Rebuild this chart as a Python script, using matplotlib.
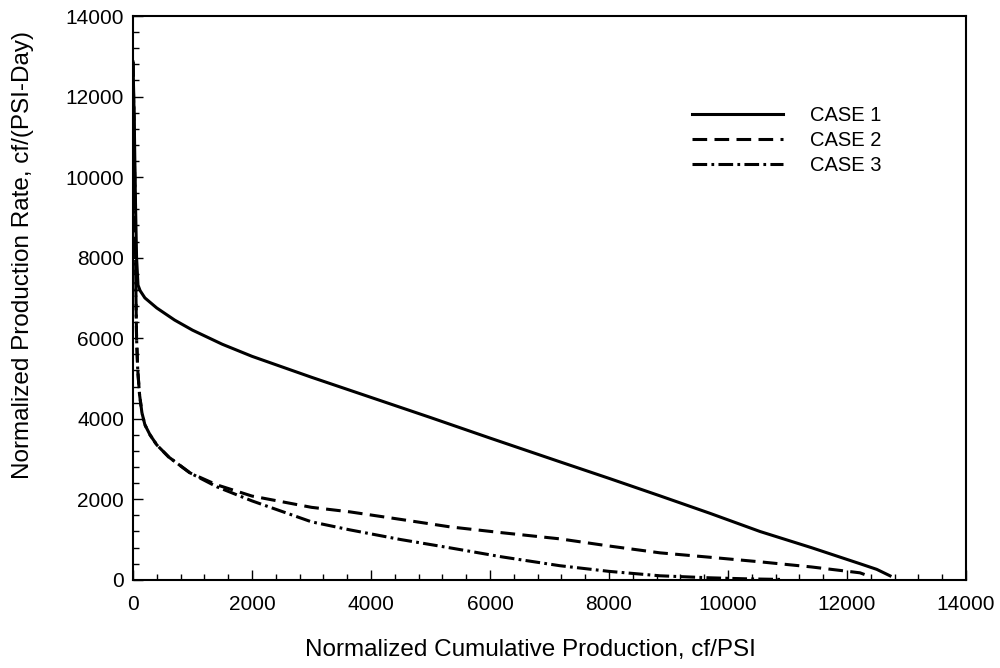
import matplotlib
matplotlib.use("Agg")
import matplotlib.pyplot as plt
from matplotlib.ticker import MultipleLocator

plt.rcParams['font.family'] = ['Liberation Sans', 'DejaVu Sans']

# normalized cumulative production (cf/PSI) and normalized rate (cf/(PSI-Day))
case1_x = [0, 20, 40, 60, 84, 120, 200, 400, 700, 1000, 1500, 2000, 3000, 4000, 5000,
           6000, 7176, 8000, 8857, 9700, 10538, 11400, 12218, 12500, 12723]
case1_y = [12860, 11500, 9500, 8000, 7320, 7180, 7000, 6750, 6450, 6200, 5850, 5550,
           5030, 4530, 4030, 3520, 2930, 2520, 2085, 1650, 1200, 800, 400, 260, 100]

case2_x = [0, 20, 40, 50, 60, 80, 110, 150, 200, 286, 400, 600, 958, 1412, 2000, 3000,
           3647, 4500, 5328, 6200, 7176, 8000, 8857, 9700, 10538, 11400, 12218, 12400]
case2_y = [12860, 11000, 8500, 7020, 6000, 5200, 4600, 4150, 3850, 3600, 3350, 3050,
           2655, 2357, 2080, 1800, 1687, 1500, 1315, 1170, 1017, 840, 670, 560, 447,
           320, 174, 75]

case3_x = [0, 20, 40, 50, 60, 80, 110, 150, 200, 286, 400, 600, 958, 1412, 2000, 3000,
           3647, 4500, 5328, 6200, 7176, 8000, 8857, 9700, 10300, 10874]
case3_y = [12860, 11000, 8500, 7020, 6000, 5200, 4600, 4150, 3850, 3600, 3350, 3050,
           2655, 2308, 1960, 1440, 1240, 1000, 794, 570, 350, 210, 100, 50, 25, 10]

fig = plt.figure(figsize=(10, 6.68), dpi=100)
ax = fig.add_axes([0.133, 0.132, 0.833, 0.844])

lw = 2.2
ax.plot(case1_x, case1_y, color='black', lw=lw, ls='-', label='CASE 1')
ax.plot(case2_x, case2_y, color='black', lw=lw, ls=(0, (4.8, 2.4)), label='CASE 2')
ax.plot(case3_x, case3_y, color='black', lw=lw, ls=(0, (4.8, 1.4, 0.9, 1.4)), label='CASE 3')

ax.set_xlim(0, 14000)
ax.set_ylim(0, 14000)
ax.xaxis.set_major_locator(MultipleLocator(2000))
ax.xaxis.set_minor_locator(MultipleLocator(400))
ax.yaxis.set_major_locator(MultipleLocator(2000))
ax.yaxis.set_minor_locator(MultipleLocator(400))
ax.tick_params(which='both', direction='in', top=False, right=False,
               width=1.0, labelsize=15)
ax.tick_params(axis='y', pad=6.5)
ax.tick_params(axis='x', pad=11)
ax.tick_params(which='major', length=7)
ax.tick_params(which='minor', length=4)
for sp in ax.spines.values():
    sp.set_linewidth(1.5)

ax.set_xlabel('Normalized Cumulative Production, cf/PSI', fontsize=17.5)
ax.xaxis.set_label_coords(0.477, -0.105)
ax.set_ylabel('Normalized Production Rate, cf/(PSI-Day)', fontsize=17.5)
ax.yaxis.set_label_coords(-0.119, 0.576)

ax.legend(loc='upper right', bbox_to_anchor=(0.92, 0.872), frameon=False,
          fontsize=14.5, handlelength=4.5, handletextpad=1.35, labelspacing=0.3)

fig.savefig('out.png', dpi=100)
